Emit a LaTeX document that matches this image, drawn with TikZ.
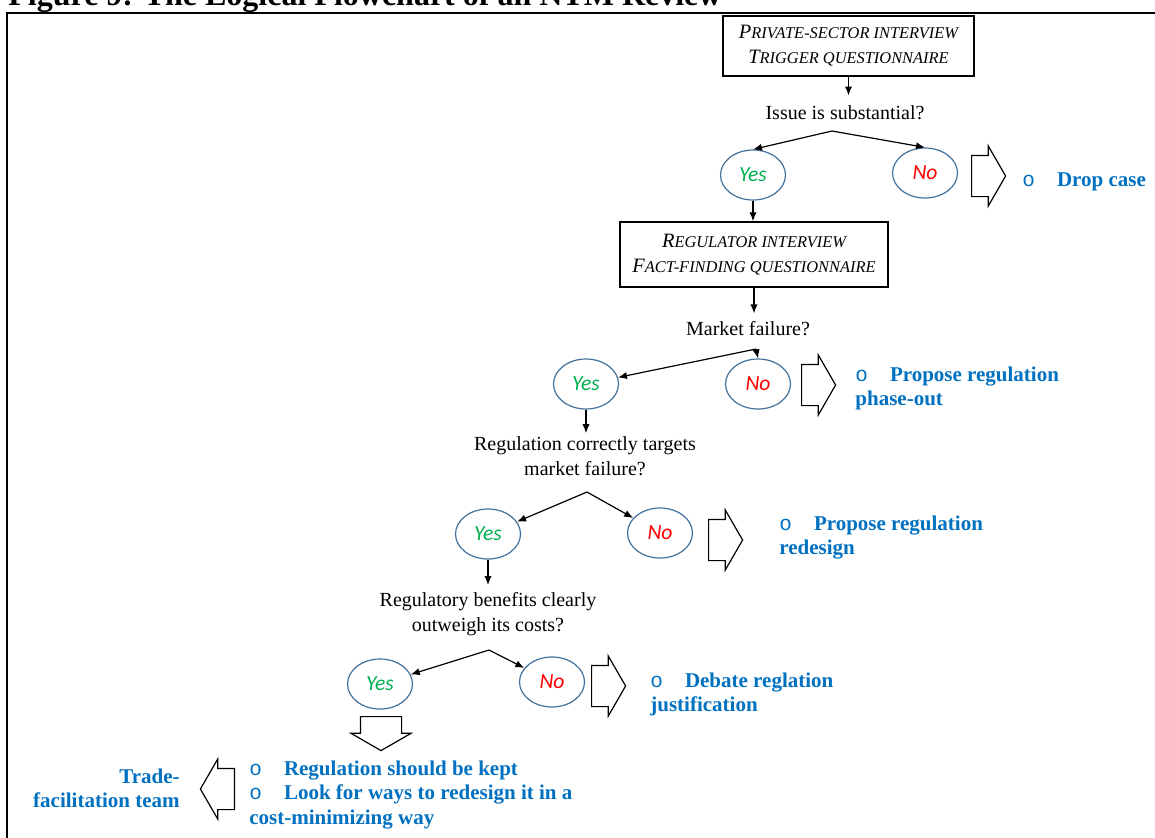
\documentclass[tikz,border=0pt]{standalone}
\usepackage{fontspec}
\setmainfont{Liberation Serif}
\newfontfamily\yesnofont{Carlito}
\newfontfamily\bulletfont{Liberation Mono}
\usetikzlibrary{shapes.geometric, shapes.arrows, arrows.meta, positioning}

\definecolor{ovalblue}{HTML}{41719C}
\definecolor{yesgreen}{HTML}{00B050}
\definecolor{nored}{HTML}{FF0000}
\definecolor{actionblue}{HTML}{0070C0}

\newcommand{\smallcap}[2]{#1{\fontsize{8.2}{12}\selectfont #2}}
\newcommand{\bul}{{\mdseries\bulletfont o}\hspace{11pt}}

\tikzset{
  interview/.style={draw, line width=0.75pt, align=center, inner sep=0pt,
    font=\fontsize{10.2}{12.5}\selectfont\itshape},
  question/.style={align=center, inner sep=0pt, font=\fontsize{10}{12.3}\selectfont},
  answer/.style={ellipse, draw=ovalblue, line width=0.6pt, minimum width=32.5pt,
    minimum height=25pt, inner sep=0pt, font=\yesnofont\itshape\fontsize{10.8}{12}\selectfont},
  action/.style={align=left, inner sep=0pt, text=actionblue,
    font=\fontsize{10.5}{12.3}\selectfont\bfseries},
  blockarrow/.style={single arrow, draw, line width=0.6pt, inner xsep=0pt, inner ysep=10pt,
    single arrow head extend=4.75pt, single arrow tip angle=120, minimum height=17pt,
    anchor=tail},
  flow/.style={-{Latex[length=4.5pt,width=3.6pt]}, line width=0.6pt}
}

\begin{document}
\begin{tikzpicture}[x=0.5pt, y=-0.5pt]
\useasboundingbox (0,0) rectangle (1155,837);
\clip (0,0) rectangle (1155,837);

% caption and frame, cut by the page edge
\node[anchor=base west, inner sep=0pt, font=\fontsize{16}{18}\selectfont\bfseries] (caption) at (8,5) {Figure 9: The Logical Flowchart of an NTM Review};
\draw[line width=1pt] (7,900) -- (7,13) -- (1200,13);

% private sector
\node[interview, minimum width=125.5pt, minimum height=30pt] (trigger) at (848.5,46) {\smallcap{P}{RIVATE-SECTOR INTERVIEW}\\\smallcap{T}{RIGGER QUESTIONNAIRE}};
\node[question] (issue) at (845,113) {Issue is substantial?};
\coordinate (fork1) at (832,131);
\node[answer, text=yesgreen] (yes1) at (753,175) {Yes};
\node[answer, text=nored] (no1) at (925,173) {No};
\node[blockarrow] (push1) at (971,176) {};
\node[action, anchor=base west] (drop) at (1022,186) {\bul Drop case};

\draw[flow, shorten >=5pt] (trigger.south) -- (trigger.south |- issue.north);
\draw[flow] (fork1) -- (yes1.north);
\draw[flow] (fork1) -- (no1.north);

% regulator
\node[interview, minimum width=134pt, minimum height=32.5pt] (fact) at (754,254.5) {\smallcap{R}{EGULATOR INTERVIEW}\\\smallcap{F}{ACT-FINDING QUESTIONNAIRE}};
\node[question] (failure) at (748,329) {Market failure?};
\coordinate (fork2) at (756,349);
\node[answer, text=yesgreen] (yes2) at (586,384) {Yes};
\node[answer, text=nored] (no2) at (758,384) {No};
\node[blockarrow] (push2) at (801,385) {};
\node[action, anchor=base west] (phaseout) at (855,405.6) {\bul Propose regulation\\phase-out};

\draw[flow] (yes1.south) -- (yes1.south |- fact.north);
\draw[flow, shorten >=4pt] (fact.south) -- (fact.south |- failure.north);
\draw[flow] (fork2) -- (yes2);
\draw[flow] (fork2) -- (no2.north);

% targeting
\node[question] (targets) at (585,456) {Regulation correctly targets\\market failure?};
\coordinate (fork3) at (587,492);
\node[answer, text=yesgreen] (yes3) at (488,534) {Yes};
\node[answer, text=nored] (no3) at (660,533) {No};
\node[blockarrow] (push3) at (708,540) {};
\node[action, anchor=base west] (redesign) at (779,554.6) {\bul Propose regulation\\redesign};

\draw[flow, shorten >=1.5pt] (yes2.south) -- (yes2.south |- targets.north);
\draw[flow] (fork3) -- (yes3);
\draw[flow] (fork3) -- (no3);

% costs and benefits
\node[question] (benefits) at (488,614) {Regulatory benefits clearly\\outweigh its costs?};
\coordinate (fork4) at (489,650);
\node[answer, text=yesgreen] (yes4) at (380,684) {Yes};
\node[answer, text=nored] (no4) at (552,682) {No};
\node[blockarrow] (push4) at (591,686) {};
\node[action, anchor=base west] (debate) at (650,711.6) {\bul Debate reglation\\justification};

\draw[flow, shorten >=3.5pt] (yes3.south) -- (yes3.south |- benefits.north);
\draw[flow] (fork4) -- (yes4);
\draw[flow] (fork4) -- (no4);

% keep the regulation
\node[blockarrow, rotate=-90] (keep) at (381,716) {};
\node[action, anchor=base west] (keepnote) at (249,824.2) {\bul Regulation should be kept\\\bul Look for ways to redesign it in a\\cost-minimizing way};
\node[blockarrow, shape border rotate=180] (pass) at (235,789) {};
\node[action, align=right, anchor=base east] (team) at (180,807.6) {Trade-\\facilitation team};
\end{tikzpicture}
\end{document}
